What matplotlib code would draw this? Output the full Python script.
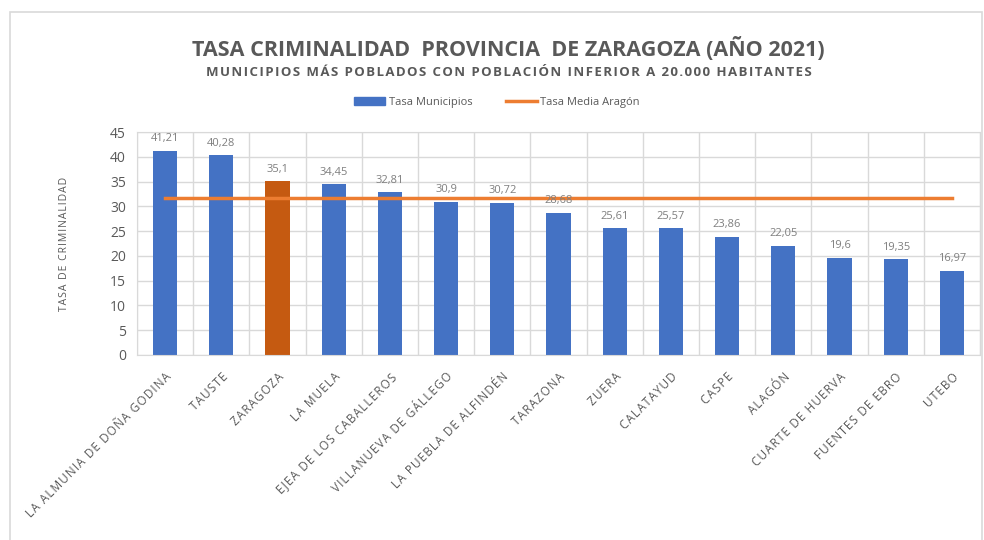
import matplotlib.pyplot as plt
from matplotlib.patches import Rectangle
from matplotlib.lines import Line2D

plt.rcParams['font.family'] = ['Open Sans', 'DejaVu Sans']

municipios = ["LA ALMUNIA DE DOÑA GODINA", "TAUSTE", "ZARAGOZA", "LA MUELA",
              "EJEA DE LOS CABALLEROS", "VILLANUEVA DE GÁLLEGO",
              "LA PUEBLA DE ALFINDÉN", "TARAZONA", "ZUERA", "CALATAYUD",
              "CASPE", "ALAGÓN", "CUARTE DE HUERVA", "FUENTES DE EBRO", "UTEBO"]
tasa = [41.21, 40.28, 35.1, 34.45, 32.81, 30.9, 30.72, 28.68, 25.61, 25.57,
        23.86, 22.05, 19.6, 19.35, 16.97]
media_aragon = 31.7

grey = "#595959"
colors = ["#C55A11" if m == "ZARAGOZA" else "#4472C4" for m in municipios]


def spaced(s):
    # Excel-style letter spacing
    return "\u200a".join(s)


fig = plt.figure(figsize=(9.84, 5.4), dpi=100)
fig.patches.append(Rectangle((10 / 984, -0.1), 972 / 984, 1.1 - 12 / 540,
                             transform=fig.transFigure, fill=False,
                             edgecolor="#d9d9d9", linewidth=1.2))

ax = fig.add_axes([137 / 984, 1 - 355 / 540, 843 / 984, 223 / 540])
x = range(len(municipios))
ax.bar(x, tasa, width=0.43, color=colors, zorder=2)
ax.plot([0, len(municipios) - 1], [media_aragon, media_aragon],
        color="#ED7D31", linewidth=2.5, zorder=3)

for i, v in enumerate(tasa):
    ax.text(i, v + 1.3, f"{v:g}".replace(".", ","), ha="center", va="bottom",
            fontsize=8, color="#7f7f7f")

ax.set_xlim(-0.5, len(municipios) - 0.5)
ax.set_ylim(0, 45)
ax.set_yticks(range(0, 46, 5))
ax.set_xticks([i + 0.5 for i in range(-1, len(municipios))], minor=False)
ax.set_xticklabels([])
ax.set_xticks(list(x), minor=True)
ax.set_xticklabels([spaced(m) for m in municipios], minor=True, rotation=45,
                   ha="right", rotation_mode="anchor", fontsize=8.5, color=grey)
ax.tick_params(axis="x", which="both", length=0, pad=11)
ax.tick_params(axis="y", length=0, labelsize=10, colors=grey, pad=8)
ax.grid(True, which="major", color="#d9d9d9", linewidth=1, zorder=0)
for s in ax.spines.values():
    s.set_color("#d9d9d9")

ax.set_ylabel(spaced("TASA DE CRIMINALIDAD"), fontsize=7.5, color=grey, labelpad=29)

fig.text(0.517, 0.91, "TASA CRIMINALIDAD  PROVINCIA  DE ZARAGOZA (AÑO 2021)",
         ha="center", va="center", fontsize=15.5, fontweight="bold", color=grey)
fig.text(0.517, 0.865, spaced("MUNICIPIOS MÁS POBLADOS CON POBLACIÓN INFERIOR A 20.000 HABITANTES"),
         ha="center", va="center", fontsize=9.5, fontweight="bold", color=grey)

handles = [Rectangle((0, 0), 1, 1, color="#4472C4"),
           Line2D([0], [0], color="#ED7D31", linewidth=2.5)]
fig.legend(handles, ["Tasa Municipios", "Tasa Media Aragón"], loc="center",
           bbox_to_anchor=(0.505, 0.81), ncol=2, frameon=False, fontsize=8,
           labelcolor=grey, columnspacing=3, handlelength=2.8, handletextpad=0.3)

fig.savefig("out.png", dpi=100)
